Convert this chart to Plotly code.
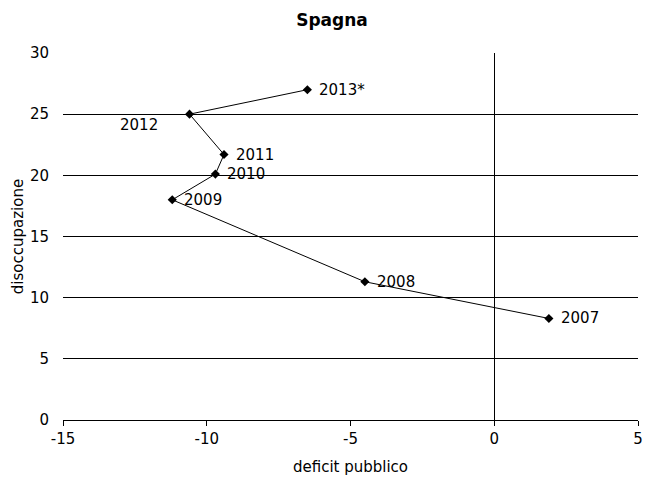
import plotly.graph_objects as go

years = ["2007", "2008", "2009", "2010", "2011", "2012", "2013*"]
deficit = [1.9, -4.5, -11.2, -9.7, -9.4, -10.6, -6.5]
disoccupazione = [8.3, 11.3, 18.0, 20.1, 21.7, 25.0, 27.0]

x_ticks = [-15, -10, -5, 0, 5]
y_ticks = [0, 5, 10, 15, 20, 25, 30]

FONT = "DejaVu Sans, Verdana, sans-serif"

fig = go.Figure()
fig.add_trace(go.Scatter(
    x=deficit, y=disoccupazione, mode="lines+markers",
    line=dict(color="black", width=1),
    marker=dict(symbol="diamond", size=7, color="black"),
    hoverinfo="skip", showlegend=False,
))

annotations = []
for yr, xv, yv in zip(years, deficit, disoccupazione):
    if yr == "2012":
        annotations.append(dict(x=xv, y=yv, text=yr, showarrow=False,
                                xanchor="right", yanchor="middle",
                                xshift=-30, yshift=-11,
                                font=dict(family=FONT, size=15, color="black")))
    else:
        annotations.append(dict(x=xv, y=yv, text=yr, showarrow=False,
                                xanchor="left", yanchor="middle",
                                xshift=10, yshift=0,
                                font=dict(family=FONT, size=15, color="black")))

fig.update_layout(
    width=646, height=478,
    margin=dict(l=63, r=8, t=53, b=58, autoexpand=False),
    paper_bgcolor="white", plot_bgcolor="white",
    font=dict(family=FONT, size=15, color="black"),
    title=dict(text="<b>Spagna</b>", x=332 / 646, xanchor="center",
               y=1 - 20 / 478, yanchor="middle", font=dict(family=FONT, size=17)),
    annotations=annotations,
    xaxis=dict(
        range=[-15, 5], tickvals=x_ticks, ticktext=[str(v) for v in x_ticks],
        showgrid=False, zeroline=True, zerolinecolor="black", zerolinewidth=1,
        showline=True, linecolor="black", linewidth=1,
        ticks="outside", ticklen=5, tickcolor="black",
        ticklabeloverflow="allow", automargin=False,
        title=dict(text="deficit pubblico", font=dict(size=15), standoff=14),
        tickfont=dict(size=15),
    ),
    yaxis=dict(
        range=[0, 30], tickvals=y_ticks, ticktext=[str(v) for v in y_ticks],
        showgrid=True, gridcolor="black", gridwidth=1,
        zeroline=False, showline=False,
        ticks="outside", ticklen=10, tickcolor="rgba(0,0,0,0)",
        ticklabeloverflow="allow", automargin=False,
        title=dict(text="disoccupazione", font=dict(size=15), standoff=2),
        tickfont=dict(size=15),
    ),
)

fig.write_html("out.html", config={"displayModeBar": False},
               post_script="document.body.style.margin='0';document.body.style.padding='0';")
